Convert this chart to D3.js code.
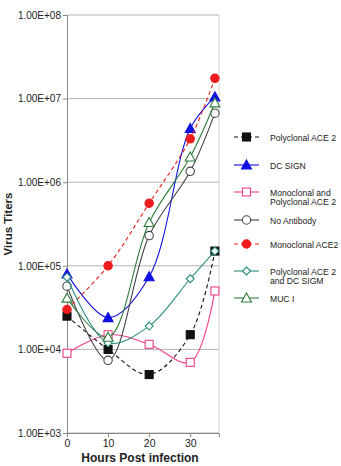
<!DOCTYPE html>
<html>
<head>
<meta charset="utf-8">
<script src="https://cdn.jsdelivr.net/npm/d3@7"></script>
<style>
  body { margin: 0; background: #fff; }
  text { font-family: "Liberation Sans", Arial, sans-serif; }
</style>
</head>
<body>
<svg width="341" height="466"></svg>
<script>
// data
var hours = [0, 10, 20, 30, 36];
var polyAce2 = [25000, 10000, 5000, 15000, 150000];
var dcSign = [80000, 24000, 74000, 4400000, 10500000];
var monoPoly = [9000, 15000, 11500, 7000, 50000];
var noAntibody = [57000, 7400, 230000, 1350000, 6700000];
var monoAce2 = [30000, 100000, 560000, 3300000, 17500000];
var polyDcSigm = [73000, 12000, 19000, 70000, 150000];
var mucI = [41000, 14000, 330000, 2000000, 8900000];

var xTicks = [0, 10, 20, 30];
var yTicks = [1e3, 1e4, 1e5, 1e6, 1e7, 1e8];
var yTickLabels = ['1.00E+03', '1.00E+04', '1.00E+05', '1.00E+06', '1.00E+07', '1.00E+08'];

var series = [
    {name: ['Polyclonal ACE 2'], values: polyAce2, color: '#111111', dash: '4,3', shape: 'square', fill: true},
    {name: ['DC SIGN'], values: dcSign, color: '#1010e0', dash: null, shape: 'triangle', fill: true},
    {name: ['Monoclonal and', 'Polyclonal ACE 2'], values: monoPoly, color: '#ee3f86', dash: null, shape: 'square', fill: false},
    {name: ['No Antibody'], values: noAntibody, color: '#444444', dash: null, shape: 'circle', fill: false},
    {name: ['Monoclonal ACE2'], values: monoAce2, color: '#ee1c1c', dash: '4,3', shape: 'circle', fill: true},
    {name: ['Polyclonal ACE 2', 'and DC SIGM'], values: polyDcSigm, color: '#2a8f7c', dash: null, shape: 'diamond', fill: false},
    {name: ['MUC I'], values: mucI, color: '#2e7d3a', dash: null, shape: 'triangle', fill: false}
];

var svg = d3.select('svg');
var padding = {t: 15, r: 122, b: 33, l: 67};
var chartWidth = 341 - padding.l - padding.r;
var chartHeight = 466 - padding.t - padding.b;

var chartG = svg.append('g')
    .attr('transform', 'translate(' + [padding.l, padding.t] + ')');

var xScale = d3.scaleLinear().domain([0, 37]).range([0, chartWidth]);
var yScale = d3.scaleLog().domain([1e3, 1e8]).range([chartHeight, 0]);

// gridlines
chartG.selectAll('.grid')
    .data(yTicks)
    .enter().append('line')
    .attr('class', 'grid')
    .attr('x1', 0).attr('x2', chartWidth)
    .attr('y1', d => yScale(d)).attr('y2', d => yScale(d))
    .attr('stroke', '#b5b5b5').attr('stroke-width', 1);

// right border
chartG.append('line')
    .attr('x1', chartWidth).attr('x2', chartWidth)
    .attr('y1', 0).attr('y2', chartHeight)
    .attr('stroke', '#d0d0d0');

var yAxis = d3.axisLeft(yScale)
    .tickValues(yTicks)
    .tickSize(4)
    .tickFormat((d, i) => yTickLabels[i]);

var yG = chartG.append('g').call(yAxis);
yG.select('.domain').attr('stroke', '#888');
yG.selectAll('.tick line').attr('stroke', '#888');
yG.selectAll('.tick text').style('font-size', '10px').attr('fill', '#222').attr('x', -6);

var xAxis = d3.axisBottom(xScale)
    .tickValues(xTicks)
    .tickSize(4)
    .tickFormat(d3.format('d'));

var xG = chartG.append('g')
    .attr('transform', 'translate(0,' + chartHeight + ')')
    .call(xAxis);
xG.select('.domain').attr('stroke', '#888');
xG.selectAll('.tick line').attr('stroke', '#888');
xG.selectAll('.tick text').style('font-size', '10.5px').attr('fill', '#222').attr('y', 7);

// axis titles
svg.append('text')
    .attr('x', padding.l + chartWidth / 2 - 3)
    .attr('y', 462)
    .attr('text-anchor', 'middle')
    .style('font-size', '12px')
    .style('font-weight', 'bold')
    .attr('fill', '#222')
    .text('Hours Post infection');

svg.append('text')
    .attr('transform', 'translate(12,224) rotate(-90)')
    .attr('text-anchor', 'middle')
    .style('font-size', '11.5px')
    .style('font-weight', 'bold')
    .attr('fill', '#222')
    .text('Virus Titers');

var line = d3.line()
    .x((d, i) => xScale(hours[i]))
    .y(d => yScale(d))
    .curve(d3.curveCatmullRom.alpha(0.5));

function drawMarker(g, shape, color, fill) {
    var f = fill ? color : '#fff';
    if (shape === 'square') {
        g.append('rect').attr('x', -4).attr('y', -4).attr('width', 8).attr('height', 8)
            .attr('fill', f).attr('stroke', color).attr('stroke-width', 1.1);
    } else if (shape === 'triangle') {
        g.append('path').attr('d', 'M0,-5L5,4L-5,4Z')
            .attr('fill', f).attr('stroke', color).attr('stroke-width', 1.1);
    } else if (shape === 'circle') {
        g.append('circle').attr('r', 4.2)
            .attr('fill', f).attr('stroke', color).attr('stroke-width', 1.1);
    } else if (shape === 'diamond') {
        g.append('path').attr('d', 'M0,-4L4,0L0,4L-4,0Z')
            .attr('fill', f).attr('stroke', color).attr('stroke-width', 1.1);
    }
}

series.forEach(function(s) {
    chartG.append('path')
        .datum(s.values)
        .attr('d', line)
        .attr('fill', 'none')
        .attr('stroke', s.color)
        .attr('stroke-width', 1.1)
        .attr('stroke-dasharray', s.dash);

    s.values.forEach(function(v, i) {
        var g = chartG.append('g')
            .attr('transform', 'translate(' + xScale(hours[i]) + ',' + yScale(v) + ')');
        drawMarker(g, s.shape, s.color, s.fill);
    });
});

// legend
var legendY = [137, 165, 192, 220, 244, 271, 298];
var legend = svg.append('g');
series.forEach(function(s, i) {
    var g = legend.append('g').attr('transform', 'translate(0,' + legendY[i] + ')');
    g.append('line')
        .attr('x1', 234).attr('x2', 259)
        .attr('stroke', s.color).attr('stroke-width', 1.1)
        .attr('stroke-dasharray', s.dash);
    var m = g.append('g').attr('transform', 'translate(246.5,0)');
    drawMarker(m, s.shape, s.color, s.fill);
    s.name.forEach(function(t, j) {
        g.append('text')
            .attr('x', 270)
            .attr('y', 3.5 + j * 9.5)
            .style('font-size', '8.6px')
            .attr('fill', '#222')
            .text(t);
    });
});
</script>
</body>
</html>
